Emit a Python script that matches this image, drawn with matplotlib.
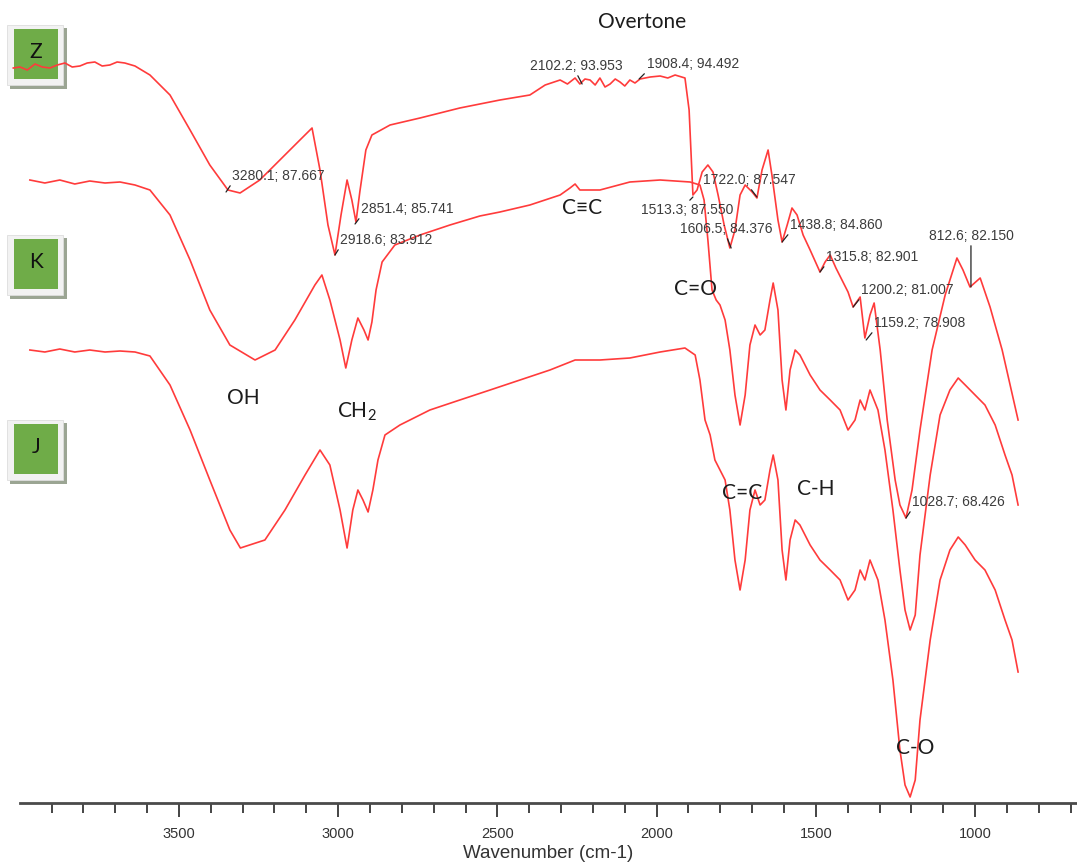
import matplotlib.pyplot as plt
from matplotlib.patches import Rectangle
from matplotlib.ticker import FixedLocator, NullFormatter

plt.rcParams['mathtext.fontset'] = 'custom'
plt.rcParams['mathtext.rm'] = 'Lato'

# spectra: wavenumber (cm-1) and offset transmittance (a.u.)
z_wn = [4020, 3999, 3976, 3952, 3929, 3905, 3882, 3858, 3835, 3811, 3788,
        3764, 3741, 3717, 3694, 3670, 3638, 3591,
        3528, 3465, 3403, 3346, 3308, 3246, 3183, 3120, 3082, 3057,
        3032, 3010, 2991, 2972, 2957, 2944, 2932, 2913, 2894, 2837,
        2743, 2618, 2492, 2398, 2350, 2303, 2280, 2256, 2241, 2225, 2209,
        2193, 2178, 2162, 2146, 2130, 2115, 2100, 2084, 2068, 2052,
        2020, 1989, 1965, 1942, 1911, 1898, 1886, 1873,
        1857, 1839, 1823, 1807, 1788, 1770, 1754, 1738, 1722, 1700,
        1685, 1669, 1650, 1638, 1619, 1606, 1590, 1575, 1559, 1540,
        1518, 1487, 1471, 1455, 1437, 1418, 1399, 1383, 1361, 1346,
        1330, 1317, 1298, 1276, 1251, 1236, 1217, 1198, 1173, 1135,
        1094, 1057, 1038, 1016, 984, 953, 915, 890, 865]
z_t = [735, 736, 733, 739, 736, 735, 738, 740, 736, 737, 740,
       741, 737, 738, 741, 740, 737, 728,
       708, 673, 638, 613, 610, 623, 643, 663, 675, 633,
       578, 548, 588, 623, 603, 581, 611, 653, 668, 678,
       685, 695, 703, 708, 718, 723, 719, 725, 719, 724, 723,
       718, 725, 716, 719, 724, 721, 717, 723, 720, 724,
       726, 727, 725, 728, 725, 693, 608, 613,
       631, 638, 631, 608, 578, 555, 573, 608, 618, 611,
       605, 633, 653, 628, 583, 561, 578, 595, 588, 568,
       553, 531, 541, 548, 535, 523, 511, 496, 506, 465,
       488, 500, 453, 383, 323, 298, 285, 313, 373, 453,
       508, 545, 533, 516, 525, 496, 453, 418, 383]

k_wn = [3968, 3921, 3874, 3827, 3780, 3732, 3685, 3638, 3591, 3528,
        3465, 3403, 3340, 3261, 3198, 3136, 3073, 3051, 3026, 2994,
        2976, 2957, 2938, 2919, 2906, 2894, 2881, 2862, 2822, 2743,
        2649, 2555, 2492, 2398, 2303, 2272, 2256, 2241, 2209, 2178,
        2084, 1989, 1895, 1864, 1851, 1839, 1826, 1813, 1801, 1785,
        1770, 1754, 1738, 1722, 1707, 1691, 1675, 1660, 1644, 1634,
        1619, 1606, 1594, 1581, 1565, 1550, 1518, 1487, 1455, 1424,
        1399, 1377, 1361, 1346, 1330, 1305, 1283, 1258, 1236, 1220,
        1204, 1188, 1173, 1141, 1110, 1079, 1053, 1031, 1000, 969,
        937, 906, 884, 865]
k_t = [623, 620, 623, 619, 622, 620, 621, 618, 613, 588,
       543, 493, 458, 443, 453, 483, 518, 528, 503, 463,
       435, 463, 485, 473, 463, 481, 513, 541, 558, 568,
       578, 587, 591, 598, 608, 615, 619, 613, 613, 613,
       621, 623, 621, 618, 603, 563, 513, 503, 498, 483,
       453, 408, 378, 408, 458, 478, 468, 473, 503, 520,
       493, 423, 393, 433, 453, 448, 428, 413, 403, 393,
       373, 383, 403, 393, 413, 393, 353, 293, 233, 193,
       173, 188, 248, 328, 388, 413, 425, 418, 408, 398,
       378, 348, 328, 298]

j_wn = [3968, 3921, 3874, 3827, 3780, 3732, 3685, 3638, 3591, 3528,
        3465, 3403, 3340, 3307, 3230, 3167, 3104, 3057, 3026, 2994,
        2972, 2954, 2938, 2922, 2906, 2891, 2875, 2853, 2806, 2712,
        2618, 2523, 2429, 2335, 2256, 2178, 2084, 1989, 1911, 1879,
        1864, 1848, 1832, 1817, 1801, 1785, 1770, 1754, 1738, 1722,
        1707, 1691, 1675, 1660, 1644, 1634, 1619, 1606, 1594, 1581,
        1565, 1550, 1518, 1487, 1455, 1424, 1399, 1377, 1361, 1346,
        1330, 1305, 1283, 1258, 1236, 1220, 1204, 1188, 1173, 1141,
        1110, 1079, 1053, 1031, 1000, 969, 937, 906, 884, 865]
j_t = [453, 451, 454, 451, 453, 451, 452, 451, 447, 418,
       373, 323, 273, 255, 263, 293, 328, 353, 338, 293,
       255, 293, 313, 303, 291, 313, 343, 368, 378, 393,
       403, 413, 423, 433, 443, 443, 445, 451, 455, 448,
       423, 383, 368, 343, 333, 323, 293, 243, 213, 243,
       293, 313, 298, 303, 333, 348, 323, 253, 223, 263,
       283, 278, 258, 243, 233, 223, 203, 213, 233, 223,
       243, 223, 183, 123, 53, 18, 6, 23, 83, 163,
       223, 253, 266, 258, 243, 233, 213, 183, 163, 131]

# peak picks on the top spectrum: label, wavenumber, value
peak_labels = ["3280.1; 87.667", "2918.6; 83.912", "2851.4; 85.741",
               "2102.2; 93.953", "1908.4; 94.492", "1722.0; 87.547",
               "1513.3; 87.550", "1606.5; 84.376", "1438.8; 84.860",
               "1315.8; 82.901", "1200.2; 81.007", "1159.2; 78.908",
               "1028.7; 68.426", "812.6; 82.150"]
peak_wn = [3352, 3010, 2947, 2234, 2055, 1685, 1886, 1766, 1606,
           1487, 1383, 1342, 1217, 1013]
peak_t = [611, 548, 579, 719, 724, 606, 606, 555, 561,
          531, 496, 463, 285, 516]
peak_off = [(6, 16), (5, 15), (6, 15), (-52, 18), (8, 15), (-54, 17),
            (-52, -13), (-51, 19), (8, 17), (6, 15), (8, 17), (8, 17),
            (6, 16), (0, 51)]
peak_ha = ['left'] * 13 + ['center']
peak_rel = [(0, 0), (0, 0), (0, 0), (0.5, 0), (0, 0), (0.5, 0),
            (0.5, 1), (0.5, 0), (0, 0), (0, 0), (0, 0), (0, 0),
            (0, 0), (0.5, 0)]

# band assignments
band_labels = ["Overtone", "C\u2261C", "C=O", "OH", r"CH$_\mathrm{2}$",
               "C=C", "C-H", "C-O"]
band_wn = [2046, 2234, 1879, 3299, 2941, 1732, 1499, 1188]
band_t = [781, 595, 514, 405, 391, 310, 314, 55]

W, H = 1077, 864
fig = plt.figure(figsize=(W / 100, H / 100), dpi=100)
ax = fig.add_axes([20 / W, 61 / H, 1057 / W, 803 / H])
ax.set_facecolor('none')

red = '#ff3b3b'
for wn, t in [(z_wn, z_t), (k_wn, k_t), (j_wn, j_t)]:
    ax.plot(wn, t, color=red, lw=1.2, clip_on=False, zorder=2)

for txt, wn, t, off, ha, rel in zip(peak_labels, peak_wn, peak_t, peak_off,
                                    peak_ha, peak_rel):
    ax.annotate(txt, xy=(wn, t), xytext=off, textcoords='offset pixels',
                ha=ha, va='center', fontsize=10, color='#3c3c3c',
                family=['Liberation Sans', 'DejaVu Sans'], zorder=3,
                arrowprops=dict(arrowstyle='-', color='#222222', lw=0.9,
                                shrinkA=0, shrinkB=0, relpos=rel))

for txt, wn, t in zip(band_labels, band_wn, band_t):
    ax.text(wn, t, txt, ha='center', va='center', fontsize=15,
            color='#1c1c1c', family=['Lato', 'DejaVu Sans'], zorder=3)

ax.set_xlim(3999, 680)
ax.set_ylim(0, 803)
ax.xaxis.set_major_locator(FixedLocator([3500, 3000, 2500, 2000, 1500, 1000]))
ax.xaxis.set_minor_locator(FixedLocator(list(range(3900, 600, -100))))
ax.xaxis.set_minor_formatter(NullFormatter())
ax.tick_params(axis='x', which='major', length=10, width=1.4, color='#444444',
               labelsize=10.5, pad=7, labelcolor='#333333')
ax.tick_params(axis='x', which='minor', length=7, width=1.4, color='#444444')
for lab in ax.get_xticklabels():
    lab.set_family(['Liberation Sans Narrow', 'Liberation Sans'])
ax.set_yticks([])
for s in ['top', 'right', 'left']:
    ax.spines[s].set_visible(False)
ax.spines['bottom'].set_linewidth(2)
ax.spines['bottom'].set_color('#4a4a4a')
ax.set_xlabel('Wavenumber (cm-1)', fontsize=13.5, color='#333333',
              family=['Liberation Sans Narrow', 'Liberation Sans'], labelpad=3)

# sample tags on the left
tags = ['Z', 'K', 'J']
tag_top = [25, 235, 420]
for name, top in zip(tags, tag_top):
    def box(x0, y0, x1, y1, color, ec='none'):
        fig.add_artist(Rectangle((x0 / W, 1 - y1 / H), (x1 - x0) / W,
                                 (y1 - y0) / H, transform=fig.transFigure,
                                 facecolor=color, edgecolor=ec, lw=0.6,
                                 zorder=-1))
    box(10, top + 3, 67, top + 64, '#9ba593')
    box(7, top, 63, top + 60, '#f2f2f2', '#dddddd')
    box(14, top + 4, 58, top + 54, '#6fac48')
    fig.text(36 / W, 1 - (top + 27) / H, name, ha='center', va='center',
             fontsize=15, color='#111111', family=['Lato', 'DejaVu Sans'],
             zorder=-1)

plt.savefig('out.png', dpi=100)
